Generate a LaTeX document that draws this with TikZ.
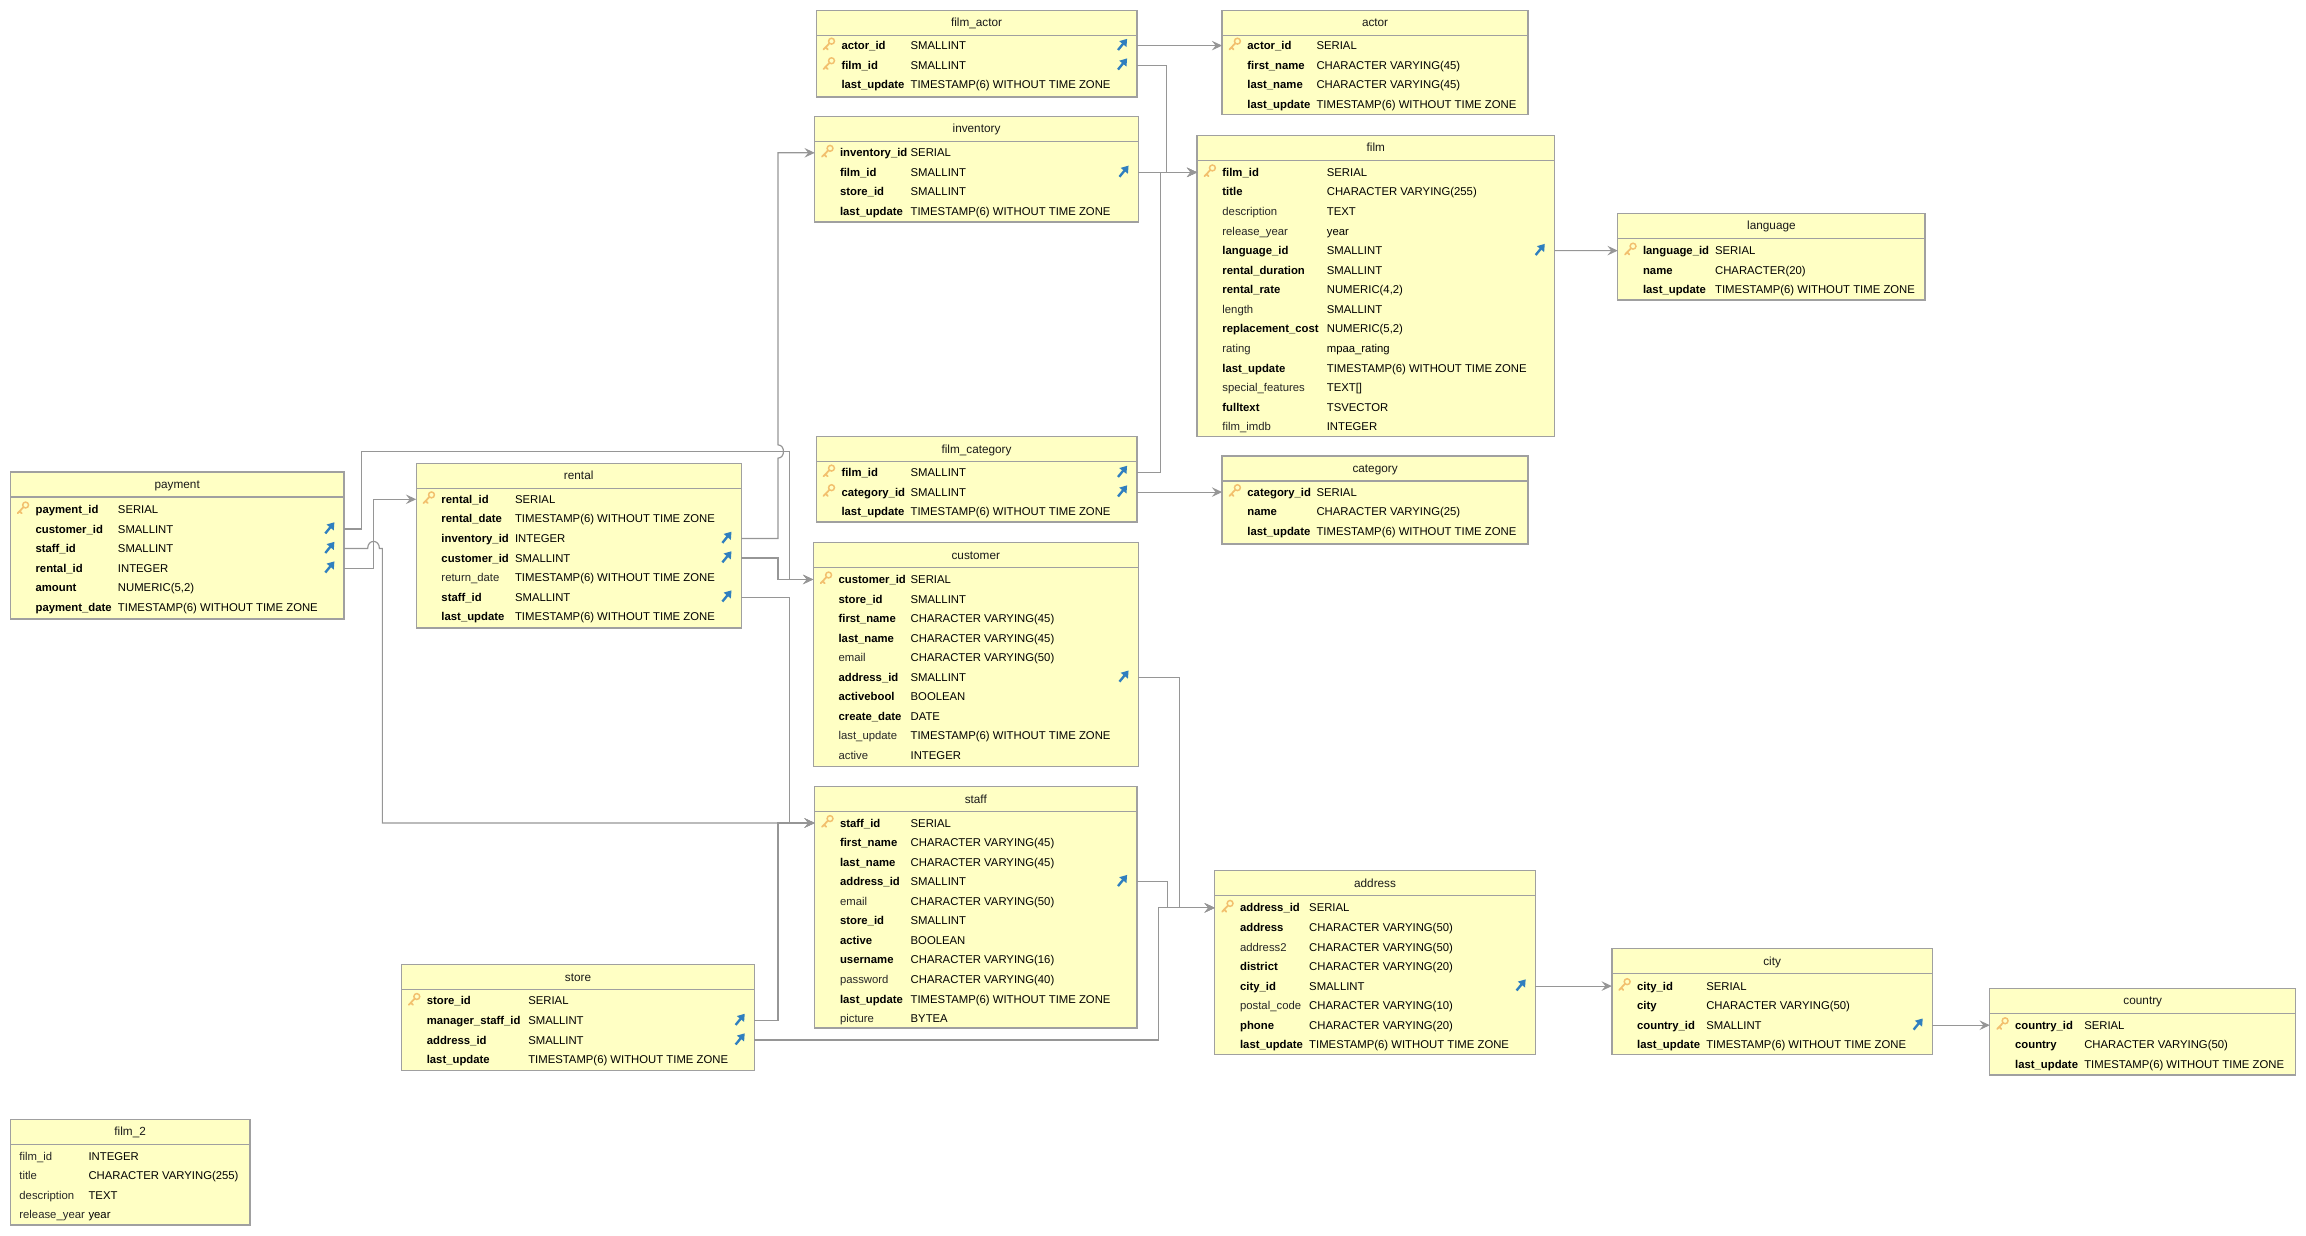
\documentclass[tikz,border=0pt]{standalone}
\usepackage{fontspec}
\setmainfont{Liberation Sans}
\usetikzlibrary{arrows.meta}
\definecolor{tablefill}{HTML}{FFFFC4}
\definecolor{tableedge}{HTML}{A0A0A0}
\definecolor{connline}{HTML}{969696}
\definecolor{keycol}{HTML}{F2C06E}
\definecolor{fkcol}{HTML}{2F7FBF}
\newcommand{\tsz}{TIMESTAMP(6) WITHOUT TIME ZONE}
\newcommand{\cvar}[1]{CHARACTER VARYING(#1)}
\def\namepad{17}
\tikzset{
    tablebox/.style={draw=tableedge, fill=tablefill, line width=0.9pt, inner sep=0pt, outer sep=0pt, anchor=north west},
    headline/.style={draw=tableedge, line width=0.9pt},
    rowbox/.style={inner sep=0pt, outer sep=0pt, minimum height=13.3pt, anchor=west},
    celltext/.style={inner sep=0pt, anchor=west, yshift=-0.7pt, text height=5.8pt, text depth=1.7pt, font=\fontsize{7.7}{9}\selectfont},
    colnn/.style={celltext, font=\fontsize{7.7}{9}\selectfont\bfseries},
    colnl/.style={celltext, text=black!85},
    titletext/.style={celltext, anchor=center, font=\fontsize{8}{9}\selectfont, text=black!90},
    conn/.style={draw=connline, line width=0.8pt, -{Stealth[length=7pt,width=6.5pt,inset=2.6pt]}},
    keyicon/.pic={
        \draw[keycol, line width=1pt] (10.4,-3) circle (2pt);
        \draw[keycol, line width=1.2pt, line cap=round] (9,-1.6) -- (5,2.6) (6.4,1.2) -- (7.8,2.6);
    },
    fkicon/.pic={
        \draw[fkcol, line width=1.6pt, -{Stealth[length=4.6pt,width=6pt,inset=0pt]}] (-12.8,3) -- (-6.6,-4.6);
    }
}
% id, title, left, top, right, bottom, type column, first row, rows
\newcommand{\dbtable}[9]{
    \node[tablebox, minimum width={(#5-#3)*1pt}, minimum height={(#6-#4)*1pt}] (#1) at (#3,#4) {};
    \draw[headline] ([yshift=-17pt]#1.north west) -- ([yshift=-17pt]#1.north east);
    \node[titletext] (#1-title) at ({(#3+#5)/2},{#4+8.6}) {#2};
    \foreach \colkind/\colname/\coltype [count=\i] in {#9} {
        \node[rowbox, minimum width={(#5-#3)*1pt}] (#1-\i) at (#3,{#8+(\i-1)*13.3}) {};
        \node[\colkind] (#1-\i-n) at ({#3+\namepad},{#8+(\i-1)*13.3}) {\colname};
        \node[celltext] (#1-\i-t) at (#7,{#8+(\i-1)*13.3}) {\coltype};
    }
}
\begin{document}
\begin{tikzpicture}[x=1pt,y=-1pt]
    \useasboundingbox (0,0) rectangle (1568,840.4);

    \dbtable{filmactor}{film\_actor}{555}{7}{773}{66}{619}{31}{colnn/actor\_id/SMALLINT, colnn/film\_id/SMALLINT, colnn/last\_update/\tsz}
    \dbtable{actor}{actor}{831}{7}{1039}{78}{895}{31}{colnn/actor\_id/SERIAL, colnn/first\_name/\cvar{45}, colnn/last\_name/\cvar{45}, colnn/last\_update/\tsz}
    \dbtable{inventory}{inventory}{554}{79}{774}{151}{619}{103.9}{colnn/inventory\_id/SERIAL, colnn/film\_id/SMALLINT, colnn/store\_id/SMALLINT, colnn/last\_update/\tsz}
    \dbtable{film}{film}{814}{92}{1057}{297}{902}{117.2}{colnn/film\_id/SERIAL, colnn/title/\cvar{255}, colnl/description/TEXT, colnl/release\_year/year, colnn/language\_id/SMALLINT, colnn/rental\_duration/SMALLINT, colnn/rental\_rate/{NUMERIC(4,2)}, colnl/length/SMALLINT, colnn/replacement\_cost/{NUMERIC(5,2)}, colnl/rating/mpaa\_rating, colnn/last\_update/\tsz, colnl/special\_features/{TEXT[]}, colnn/fulltext/TSVECTOR, colnl/film\_imdb/INTEGER}
    \dbtable{language}{language}{1100}{145}{1309}{204}{1166}{170.4}{colnn/language\_id/SERIAL, colnn/name/CHARACTER(20), colnn/last\_update/\tsz}
    \dbtable{filmcategory}{film\_category}{555}{297}{773}{355}{619}{321.3}{colnn/film\_id/SMALLINT, colnn/category\_id/SMALLINT, colnn/last\_update/\tsz}
    \dbtable{category}{category}{831}{310}{1039}{370}{895}{334.6}{colnn/category\_id/SERIAL, colnn/name/\cvar{25}, colnn/last\_update/\tsz}
    \dbtable{payment}{payment}{7}{321}{234}{421}{80}{346.4}{colnn/payment\_id/SERIAL, colnn/customer\_id/SMALLINT, colnn/staff\_id/SMALLINT, colnn/rental\_id/INTEGER, colnn/amount/{NUMERIC(5,2)}, colnn/payment\_date/\tsz}
    \dbtable{rental}{rental}{283}{315}{504}{427}{350}{339.5}{colnn/rental\_id/SERIAL, colnn/rental\_date/\tsz, colnn/inventory\_id/INTEGER, colnn/customer\_id/SMALLINT, colnl/return\_date/\tsz, colnn/staff\_id/SMALLINT, colnn/last\_update/\tsz}
    \dbtable{customer}{customer}{553}{369}{774}{521}{619}{394}{colnn/customer\_id/SERIAL, colnn/store\_id/SMALLINT, colnn/first\_name/\cvar{45}, colnn/last\_name/\cvar{45}, colnl/email/\cvar{50}, colnn/address\_id/SMALLINT, colnn/activebool/BOOLEAN, colnn/create\_date/DATE, colnl/last\_update/\tsz, colnl/active/INTEGER}
    \dbtable{staff}{staff}{554}{535}{773}{699}{619}{559.6}{colnn/staff\_id/SERIAL, colnn/first\_name/\cvar{45}, colnn/last\_name/\cvar{45}, colnn/address\_id/SMALLINT, colnl/email/\cvar{50}, colnn/store\_id/SMALLINT, colnn/active/BOOLEAN, colnn/username/\cvar{16}, colnl/password/\cvar{40}, colnn/last\_update/\tsz, colnl/picture/BYTEA}
    \dbtable{store}{store}{273}{656}{513}{728}{359}{680.6}{colnn/store\_id/SERIAL, colnn/manager\_staff\_id/SMALLINT, colnn/address\_id/SMALLINT, colnn/last\_update/\tsz}
    \dbtable{address}{address}{826}{592}{1044}{717}{890}{617.3}{colnn/address\_id/SERIAL, colnn/address/\cvar{50}, colnl/address2/\cvar{50}, colnn/district/\cvar{20}, colnn/city\_id/SMALLINT, colnl/postal\_code/\cvar{10}, colnn/phone/\cvar{20}, colnn/last\_update/\tsz}
    \dbtable{city}{city}{1096}{645}{1314}{717}{1160}{670.5}{colnn/city\_id/SERIAL, colnn/city/\cvar{50}, colnn/country\_id/SMALLINT, colnn/last\_update/\tsz}
    \dbtable{country}{country}{1353}{672}{1561}{731}{1417}{697.1}{colnn/country\_id/SERIAL, colnn/country/\cvar{50}, colnn/last\_update/\tsz}
    \def\namepad{6}
    \dbtable{filmtwo}{film\_2}{7}{761}{170}{833}{60}{786}{colnl/film\_id/INTEGER, colnl/title/\cvar{255}, colnl/description/TEXT, colnl/release\_year/year}

    \foreach \r in {filmactor-1,filmactor-2,actor-1,inventory-1,film-1,language-1,filmcategory-1,filmcategory-2,category-1,payment-1,rental-1,customer-1,staff-1,store-1,address-1,city-1,country-1}
        \pic at (\r.west) {keyicon};
    \foreach \r in {filmactor-1,filmactor-2,inventory-2,film-5,filmcategory-1,filmcategory-2,payment-2,payment-3,payment-4,rental-3,rental-4,rental-6,customer-6,staff-4,store-2,store-3,address-5,city-3}
        \pic at (\r.east) {fkicon};

    % routing columns
    \coordinate (busa) at (529,0);
    \coordinate (busb) at (537,0);
    \coordinate (busc) at (260,0);
    \coordinate (busd) at (254,0);
    \coordinate (hopa) at (529,311.5);
    \coordinate (hopb) at (529,302.5);
    \coordinate (hopc) at (250,373);
    \coordinate (hopd) at (258,373);
    \coordinate (topline) at (246,307);

    \draw[conn] (filmactor-1.east) -- (actor-1.west);
    \draw[conn] (filmactor-2.east) -| (793,80) |- (film-1.west);
    \draw[conn] (inventory-2.east) -- (film-1.west);
    \draw[conn] (filmcategory-1.east) -| (789,200) |- (film-1.west);
    \draw[conn] (filmcategory-2.east) -- (category-1.west);
    \draw[conn] (film-5.east) -- (language-1.west);
    \draw[conn] (rental-3.east) -| (hopa) .. controls (534,311.5) and (534,302.5) .. (hopb) |- (inventory-1.west);
    \draw[conn] (payment-2.east) -| (topline) -| (busb |- customer-1.west) -- (customer-1.west);
    \draw[conn] (rental-4.east) -| (busa |- customer-1.west) -- (customer-1.west);
    \draw[conn] (rental-6.east) -| (busb |- staff-1.west) -- (staff-1.west);
    \draw[conn] (payment-3.east) -- (hopc) .. controls (250,366.5) and (258,366.5) .. (hopd) -| (busc |- staff-1.west) -- (staff-1.west);
    \draw[conn] (payment-4.east) -| (busd |- rental-1.west) -- (rental-1.west);
    \draw[conn] (store-2.east) -| (busa |- staff-1.west) -- (staff-1.west);
    \draw[conn] (store-3.east) -| (788,660) |- (address-1.west);
    \draw[conn] (staff-4.east) -| (794,610) |- (address-1.west);
    \draw[conn] (customer-6.east) -| (802,540) |- (address-1.west);
    \draw[conn] (address-5.east) -- (city-1.west);
    \draw[conn] (city-3.east) -- (country-1.west);
\end{tikzpicture}
\end{document}
